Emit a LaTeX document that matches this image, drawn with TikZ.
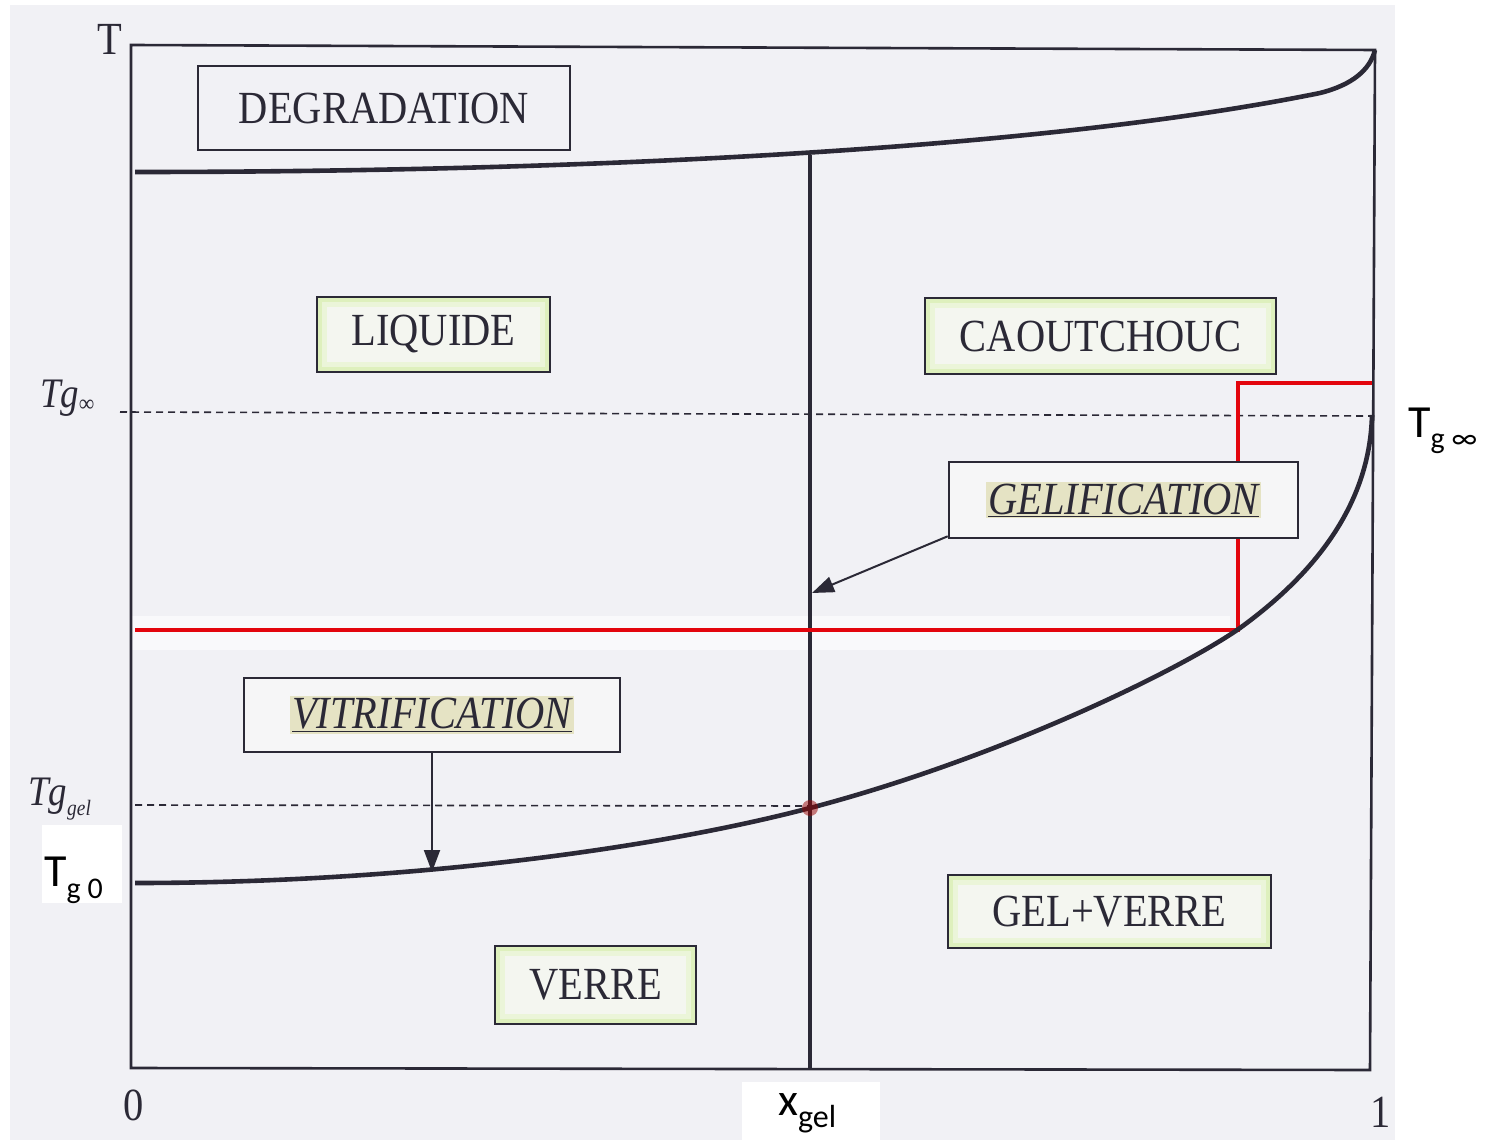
\documentclass[tikz,border=0pt]{standalone}
\usepackage{fontspec}
\setmainfont{Liberation Serif}
\newfontfamily\scanfont[FakeStretch=0.88]{Liberation Serif}
\newfontfamily\calfont{Carlito}
\usetikzlibrary{arrows.meta}
\definecolor{bgscan}{rgb}{0.945,0.945,0.962}
\definecolor{inkc}{rgb}{0.17,0.16,0.21}
\definecolor{greenedge}{rgb}{0.87,0.94,0.74}
\definecolor{greenmid}{rgb}{0.92,0.96,0.85}
\definecolor{greenin}{rgb}{0.955,0.965,0.94}
\definecolor{khaki}{rgb}{0.90,0.89,0.77}
\definecolor{redl}{rgb}{0.89,0.02,0.05}
\newcommand\hlword[1]{{\setlength{\fboxsep}{2pt}\colorbox{khaki}{\underline{\itshape #1}}}}
\tikzset{
  plainbox/.style={draw=inkc, line width=2.6pt, fill=bgscan, inner sep=0pt,
     font=\scanfont\fontsize{46}{46}\selectfont, text=inkc},
  greenbox/.style={plainbox, fill=greenedge,
     path picture={
       \fill[greenmid] ([shift={(5pt,-5pt)}]path picture bounding box.north west) rectangle ([shift={(-5pt,5pt)}]path picture bounding box.south east);
       \fill[greenin] ([shift={(10pt,-10pt)}]path picture bounding box.north west) rectangle ([shift={(-10pt,10pt)}]path picture bounding box.south east);
     }},
  italbox/.style={plainbox, fill={rgb,1:red,0.965;green,0.965;blue,0.97}},
  pointer/.style={draw=inkc, line width=2pt, -{Triangle[length=22pt,width=16pt]}},
  curve/.style={draw=inkc, line width=4.6pt},
  dashline/.style={draw=inkc, dash pattern=on 7pt off 5pt, line width=1.6pt},
  axislbl/.style={font=\scanfont\fontsize{46}{46}\selectfont, text=inkc, inner sep=0pt},
  callbl/.style={font=\calfont\fontsize{46}{46}\selectfont, text=black, inner sep=0pt},
}
\begin{document}
\begin{tikzpicture}[x=1pt,y=-1pt]
\useasboundingbox (0,0) rectangle (1486,1147);
\fill[white] (0,0) rectangle (1486,1147);
\fill[bgscan] (10,5) rectangle (1395,1140);
\fill[white, opacity=0.6] (132,616) rectangle (1230,650);

% frame
\draw[inkc, line width=2.6pt] (131,45) -- (1375,50) -- (1370,1070) -- (131,1068) -- cycle;

% degradation curve
\draw[curve] (135,172) .. controls (600,172) and (1050,148) .. (1320,93) .. controls (1352,85) and (1370,70) .. (1375,50);

% dashed lines
\draw[dashline] (120,412) -- (1370,416);
\draw[dashline] (135,805) -- (810,806);

% gel line
\draw[inkc, line width=3.4pt] (810,155) -- (810,1070);

% red path
\draw[redl, line width=4pt] (135,630) -- (1238,630) -- (1238,383) -- (1372,383);

% vitrification curve
\draw[curve] (135,883) .. controls (400,883) and (650,850) .. (810,808) .. controls (1000,758) and (1180,670) .. (1240,628) .. controls (1320,570) and (1370,500) .. (1372,415);
\fill[red!60!black, opacity=0.5] (810,808) circle (8);

% boxes
\node[plainbox, minimum width=372, minimum height=84] (deg) at (384,108) {DEGRADATION};
\node[greenbox, minimum width=233, minimum height=75] (liq) at (433.5,334.5) {LIQUIDE};
\node[greenbox, minimum width=351, minimum height=76] (cao) at (1100.5,336) {CAOUTCHOUC};
\node[italbox, minimum width=349, minimum height=76] (gel) at (1123.5,500) {\hlword{GELIFICATION}};
\node[italbox, minimum width=376, minimum height=74] (vit) at (432,715) {\hlword{VITRIFICATION}};
\node[greenbox, minimum width=323, minimum height=73] (gv) at (1109.5,911.5) {GEL+VERRE};
\node[greenbox, minimum width=201, minimum height=78] (ver) at (595.5,985) {VERRE};

% pointers
\coordinate (gelpt) at (812,593);
\coordinate (vitpt) at (432,872);
\draw[pointer] ([yshift=3pt]gel.south west) -- (gelpt);
\draw[pointer] (vit.south) -- (vitpt);

% axis labels
\node[axislbl, anchor=base] (tlab) at (110,55) {T};
\node[axislbl, anchor=base] (zero) at (134,1120) {0};
\node[axislbl, anchor=base] (one) at (1381,1127) {1};
\node[axislbl, anchor=base west, font=\scanfont\fontsize{42}{42}\selectfont] (tginf) at (40,407) {\itshape Tg\raisebox{-5pt}{\fontsize{24}{24}\selectfont ∞}};
\node[axislbl, anchor=base west, font=\scanfont\fontsize{42}{42}\selectfont] (tggel) at (28,805) {\itshape Tg\raisebox{-10pt}{\fontsize{22}{22}\selectfont gel}};

% added labels
\fill[white] (42,825) rectangle (122,903);
\fill[white] (742,1082) rectangle (880,1147);
\node[callbl, anchor=base west] (tg0) at (44,886) {T\raisebox{-12pt}{\fontsize{30}{30}\selectfont g 0}};
\node[callbl, anchor=base west] (tginfr) at (1408,437) {T\raisebox{-12pt}{\fontsize{30}{30}\selectfont g ∞}};
\node[callbl, anchor=base west] (xgel) at (778,1115) {x\raisebox{-12pt}{\fontsize{32}{32}\selectfont gel}};
\end{tikzpicture}
\end{document}
